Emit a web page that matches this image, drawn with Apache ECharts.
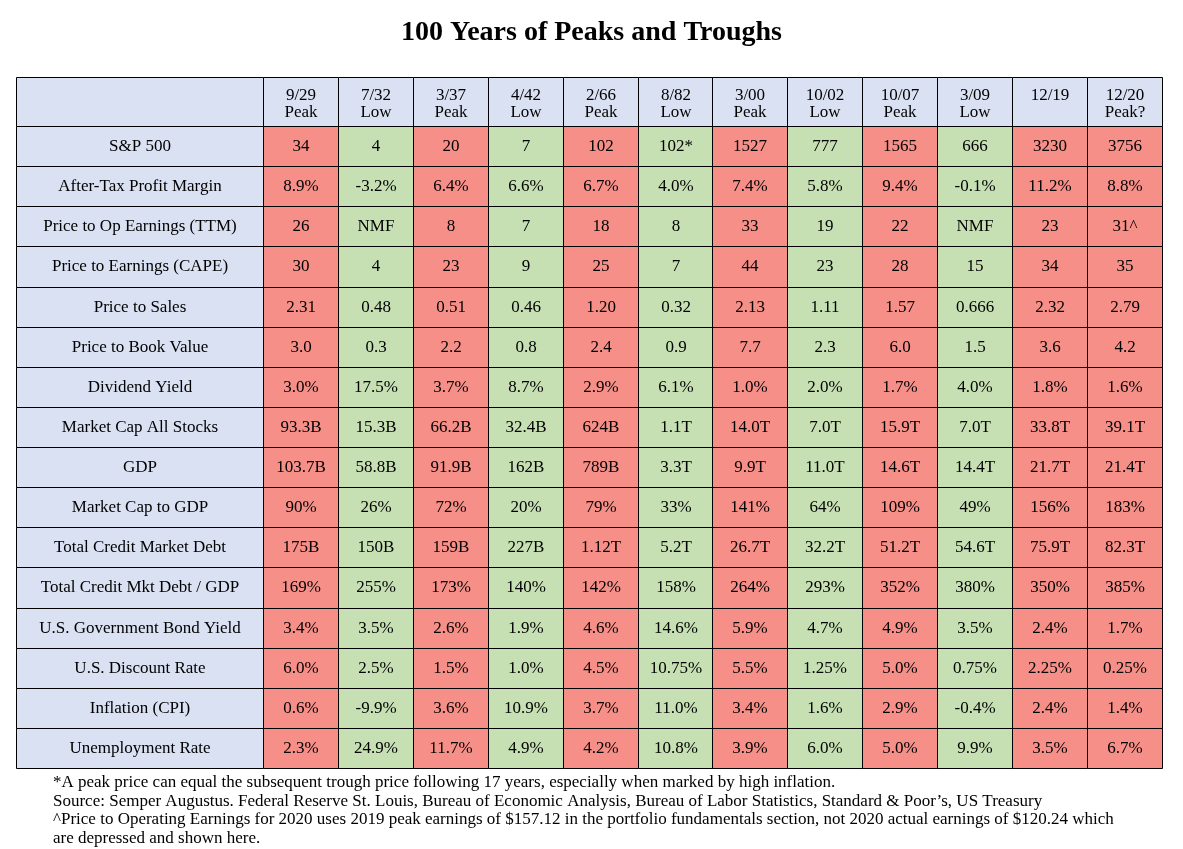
<!DOCTYPE html>
<html><head><meta charset="utf-8">
<script src="https://cdn.jsdelivr.net/npm/echarts@6/dist/echarts.min.js"></script>
<style>html,body{margin:0;padding:0;background:#fff}#c{width:1183px;height:849px}</style>
</head><body><div id="c"></div>
<script>
// ---- data ----
const colDates = ['9/29','7/32','3/37','4/42','2/66','8/82','3/00','10/02','10/07','3/09','12/19','12/20'];
const colTags  = ['Peak','Low','Peak','Low','Peak','Low','Peak','Low','Peak','Low','','Peak?'];
const colPhase = ['peak','low','peak','low','peak','low','peak','low','peak','low','peak','peak'];
const rowLabels = ['S&P 500','After-Tax Profit Margin','Price to Op Earnings (TTM)','Price to Earnings (CAPE)',
  'Price to Sales','Price to Book Value','Dividend Yield','Market Cap All Stocks','GDP','Market Cap to GDP',
  'Total Credit Market Debt','Total Credit Mkt Debt / GDP','U.S. Government Bond Yield','U.S. Discount Rate',
  'Inflation (CPI)','Unemployment Rate'];
const sp500         = ['34','4','20','7','102','102*','1527','777','1565','666','3230','3756'];
const profitMargin  = ['8.9%','-3.2%','6.4%','6.6%','6.7%','4.0%','7.4%','5.8%','9.4%','-0.1%','11.2%','8.8%'];
const priceOpEarn   = ['26','NMF','8','7','18','8','33','19','22','NMF','23','31^'];
const cape          = ['30','4','23','9','25','7','44','23','28','15','34','35'];
const priceSales    = ['2.31','0.48','0.51','0.46','1.20','0.32','2.13','1.11','1.57','0.666','2.32','2.79'];
const priceBook     = ['3.0','0.3','2.2','0.8','2.4','0.9','7.7','2.3','6.0','1.5','3.6','4.2'];
const dividendYield = ['3.0%','17.5%','3.7%','8.7%','2.9%','6.1%','1.0%','2.0%','1.7%','4.0%','1.8%','1.6%'];
const marketCap     = ['93.3B','15.3B','66.2B','32.4B','624B','1.1T','14.0T','7.0T','15.9T','7.0T','33.8T','39.1T'];
const gdp           = ['103.7B','58.8B','91.9B','162B','789B','3.3T','9.9T','11.0T','14.6T','14.4T','21.7T','21.4T'];
const mktCapToGdp   = ['90%','26%','72%','20%','79%','33%','141%','64%','109%','49%','156%','183%'];
const creditDebt    = ['175B','150B','159B','227B','1.12T','5.2T','26.7T','32.2T','51.2T','54.6T','75.9T','82.3T'];
const creditDebtGdp = ['169%','255%','173%','140%','142%','158%','264%','293%','352%','380%','350%','385%'];
const bondYield     = ['3.4%','3.5%','2.6%','1.9%','4.6%','14.6%','5.9%','4.7%','4.9%','3.5%','2.4%','1.7%'];
const discountRate  = ['6.0%','2.5%','1.5%','1.0%','4.5%','10.75%','5.5%','1.25%','5.0%','0.75%','2.25%','0.25%'];
const inflation     = ['0.6%','-9.9%','3.6%','10.9%','3.7%','11.0%','3.4%','1.6%','2.9%','-0.4%','2.4%','1.4%'];
const unemployment  = ['2.3%','24.9%','11.7%','4.9%','4.2%','10.8%','3.9%','6.0%','5.0%','9.9%','3.5%','6.7%'];
const rowValues = [sp500, profitMargin, priceOpEarn, cape, priceSales, priceBook, dividendYield, marketCap,
  gdp, mktCapToGdp, creditDebt, creditDebtGdp, bondYield, discountRate, inflation, unemployment];
const footnotes = [
  '*A peak price can equal the subsequent trough price following 17 years, especially when marked by high inflation.',
  'Source: Semper Augustus. Federal Reserve St. Louis, Bureau of Economic Analysis, Bureau of Labor Statistics, Standard & Poor\u2019s, US Treasury',
  '^Price to Operating Earnings for 2020 uses 2019 peak earnings of $157.12 in the portfolio fundamentals section, not 2020 actual earnings of $120.24 which',
  'are depressed and shown here.'
];

// ---- styles ----
const FONT = '"Liberation Serif", "Times New Roman", serif';
const BLUE = '#D9E1F2', RED = '#F68F88', GREEN = '#C6E0B4';
const phaseColor = {peak: RED, low: GREEN};

function cellRenderer(getText, getFill, lineH, dy) {
  return function (params, api) {
    const c = api.coord([api.value(0), api.value(1)]);
    const s = api.size([1, 1]);
    const x0 = Math.round(c[0] - s[0] / 2) + 0.5, x1 = Math.round(c[0] + s[0] / 2) + 0.5;
    const y0 = Math.round(c[1] - s[1] / 2) + 0.5, y1 = Math.round(c[1] + s[1] / 2) + 0.5;
    const i = params.dataIndex;
    return {
      type: 'group',
      children: [
        {type: 'rect', shape: {x: x0, y: y0, width: x1 - x0, height: y1 - y0},
         style: {fill: getFill(i), stroke: '#000', lineWidth: 1}},
        {type: 'text', style: {x: (x0 + x1) / 2, y: (y0 + y1) / 2 + (dy || 0), text: getText(i), align: 'center',
          verticalAlign: 'middle', font: '17px ' + FONT, fill: '#000', lineHeight: lineH || 19}}
      ]
    };
  };
}

const bodyData = [];
rowValues.forEach((row, r) => row.forEach((v, c) => bodyData.push([c, r])));

const hiddenCat = (data, inverse) => ({type: 'category', data: data, show: false, inverse: !!inverse,
  boundaryGap: true, axisLine: {show: false}, axisTick: {show: false}, axisLabel: {show: false}, splitLine: {show: false}});

const option = {
  animation: false,
  backgroundColor: '#fff',
  title: {text: '100 Years of Peaks and Troughs', left: 'center', top: 14,
    textStyle: {fontFamily: FONT, fontWeight: 'bold', fontSize: 28, color: '#000'}},
  grid: [
    {left: 16, top: 126, width: 247, height: 642},
    {left: 263, top: 126, width: 899, height: 642},
    {left: 263, top: 77, width: 899, height: 49},
    {left: 16, top: 77, width: 247, height: 49}
  ],
  xAxis: [
    Object.assign(hiddenCat(['label']), {gridIndex: 0}),
    Object.assign(hiddenCat(colDates), {gridIndex: 1}),
    Object.assign(hiddenCat(colDates), {gridIndex: 2}),
    Object.assign(hiddenCat(['corner']), {gridIndex: 3})
  ],
  yAxis: [
    Object.assign(hiddenCat(rowLabels, true), {gridIndex: 0}),
    Object.assign(hiddenCat(rowLabels, true), {gridIndex: 1}),
    Object.assign(hiddenCat(['header']), {gridIndex: 2}),
    Object.assign(hiddenCat(['header']), {gridIndex: 3})
  ],
  series: [
    {type: 'custom', xAxisIndex: 0, yAxisIndex: 0, clip: false,
     data: rowLabels.map((l, i) => [0, i]),
     renderItem: cellRenderer(i => rowLabels[i], () => BLUE)},
    {type: 'custom', xAxisIndex: 1, yAxisIndex: 1, clip: false,
     data: bodyData,
     renderItem: cellRenderer(i => rowValues[bodyData[i][1]][bodyData[i][0]], i => phaseColor[colPhase[bodyData[i][0]]])},
    {type: 'custom', xAxisIndex: 2, yAxisIndex: 2, clip: false,
     data: colDates.map((d, i) => [i, 0]),
     renderItem: cellRenderer(i => colDates[i] + '\n' + (colTags[i] || ' '), () => BLUE, 17, 2)},
    {type: 'custom', xAxisIndex: 3, yAxisIndex: 3, clip: false,
     data: [[0, 0]],
     renderItem: cellRenderer(() => '', () => BLUE)}
  ],
  graphic: [
    {type: 'text', left: 53, top: 773,
     style: {text: footnotes.join('\n'), font: '17px ' + FONT, lineHeight: 18.7, fill: '#000'}}
  ]
};
const chart = echarts.init(document.getElementById('c'), null, {renderer: 'canvas'});
chart.setOption(option);
</script>
</body></html>
